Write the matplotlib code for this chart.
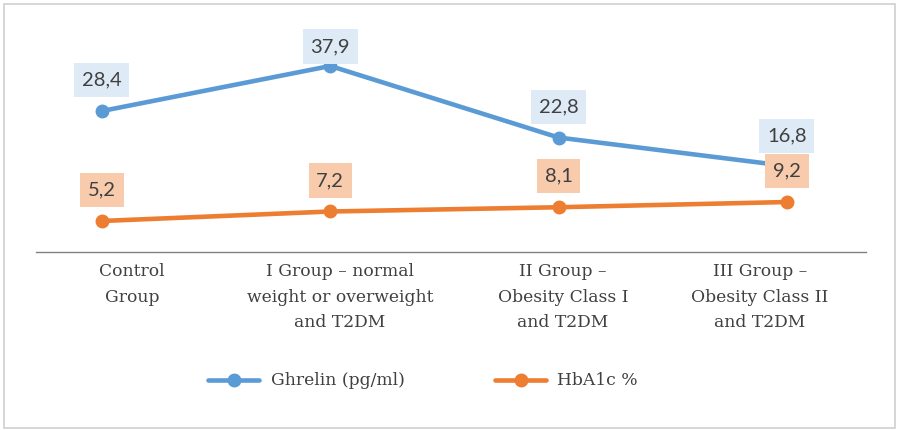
import matplotlib.pyplot as plt
from matplotlib.patches import Rectangle

# group names and measured values
groups = ["Control\nGroup",
          "I Group – normal\nweight or overweight\nand T2DM",
          "II Group –\nObesity Class I\nand T2DM",
          "III Group –\nObesity Class II\nand T2DM"]
ghrelin = [28.4, 37.9, 22.8, 16.8]
hba1c = [5.2, 7.2, 8.1, 9.2]

blue = "#5B9BD5"
orange = "#ED7D31"
text_col = "#404040"
serif = "DejaVu Serif"

fig = plt.figure(figsize=(8.97, 4.30), dpi=100)
ax = fig.add_axes([0.0401, 0.414, 0.9253, 0.5395])

x = list(range(len(groups)))
ax.plot(x, ghrelin, color=blue, lw=3.3, marker="o", ms=9,
        solid_capstyle="round", label="Ghrelin (pg/ml)", zorder=3)
ax.plot(x, hba1c, color=orange, lw=3.3, marker="o", ms=9,
        solid_capstyle="round", label="HbA1c %", zorder=3)

# value labels in filled boxes above each point
def label_points(vals, face, offsets, z):
    for i, v in enumerate(vals):
        ax.annotate(f"{v:.1f}".replace(".", ","), (i, v),
                    xytext=(0, offsets[i]), textcoords="offset points",
                    ha="center", va="center", fontsize=14.5, family="Lato",
                    color=text_col, zorder=z,
                    bbox=dict(boxstyle="square,pad=0.38", fc=face, ec="none",
                              mutation_aspect=1.12))

label_points(ghrelin, "#DEEAF6", [22.3, 14, 22.3, 21.5], 5)
label_points(hba1c, "#F8CBAD", [22.3, 22.3, 22.3, 22.3], 6)

ax.set_xlim(-0.289, 3.346)
ax.set_ylim(-1.34, 47.6)

# category labels sit slightly inward of the points
ax.set_xticks([0.131, 1.042, 2.019, 2.882])
ax.set_xticklabels(groups, family=serif, fontsize=12.3, color=text_col,
                   linespacing=1.65)
ax.tick_params(axis="x", length=0, pad=8)
ax.set_yticks([])
for s in ["top", "right", "left"]:
    ax.spines[s].set_visible(False)
ax.spines["bottom"].set_color("#808080")
ax.spines["bottom"].set_linewidth(1.0)

leg = fig.legend(loc="center", bbox_to_anchor=(0.4716, 0.114), ncol=2,
                 frameon=False, handlelength=3.0, handletextpad=0.65,
                 columnspacing=5.3, prop={"family": serif, "size": 12.3})
for t in leg.get_texts():
    t.set_color(text_col)

# chart border
fig.patches.append(Rectangle((4 / 897, 2 / 430), 891 / 897, 424 / 430,
                             transform=fig.transFigure, fill=False,
                             ec="#D0D0D0", lw=1.2))

fig.savefig("out.png", dpi=100)
